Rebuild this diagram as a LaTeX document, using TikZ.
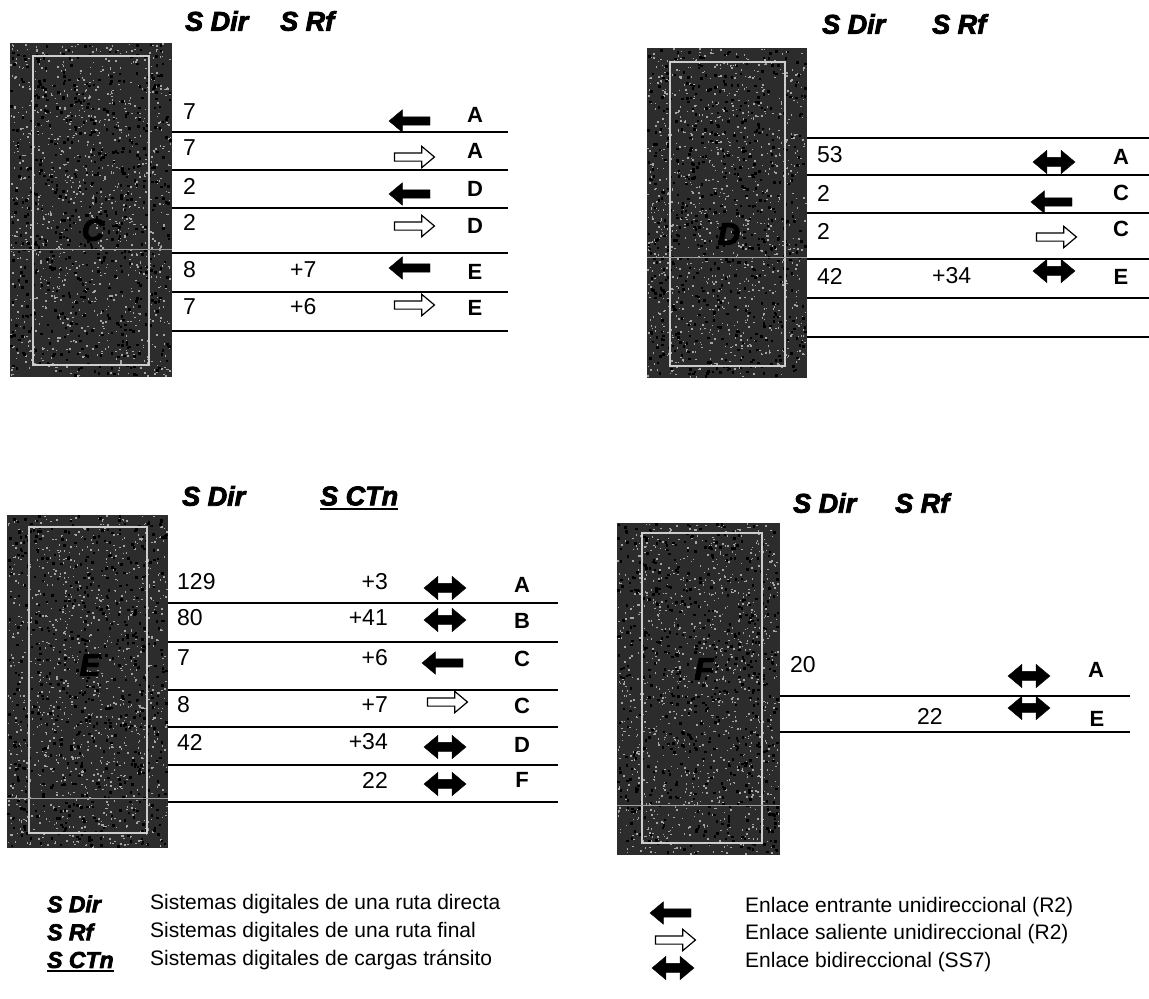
\documentclass[tikz,border=0pt]{standalone}
\usepackage{fontspec}
\setmainfont{Liberation Sans}
\newfontfamily\hdrfont[FakeBold=3]{Liberation Sans}
\usetikzlibrary{shapes.arrows, positioning}
\definecolor{boxgray}{RGB}{44,44,44}
\definecolor{speckgray}{RGB}{165,165,165}
\definecolor{rimgray}{RGB}{205,205,205}
\tikzstyle{exchbox} = [rectangle, fill=boxgray, inner sep=0]
\tikzstyle{innerframe} = [draw=rimgray, line width=1.3pt]
\tikzstyle{seam} = [draw=gray!75, line width=0.8pt]
\tikzstyle{boxletter} = [font=\hdrfont\bfseries\itshape\fontsize{31}{31}\selectfont, text=black, inner sep=0]
\tikzstyle{hdr} = [font=\hdrfont\bfseries\itshape\fontsize{27}{28}\selectfont, inner sep=0, anchor=west]
\tikzstyle{numcell} = [font=\fontsize{23}{24}\selectfont, inner sep=0, anchor=west]
\tikzstyle{numcellr} = [numcell, anchor=east]
\tikzstyle{destcell} = [font=\bfseries\fontsize{22}{24}\selectfont, inner sep=0]
\tikzstyle{tabline} = [line width=1.4pt]
\tikzstyle{underbar} = [line width=1.8pt]
\tikzstyle{inarrow} = [single arrow, shape border rotate=180, draw=black, fill=black, minimum height=41, inner xsep=0, inner ysep=4, single arrow head extend=7, single arrow tip angle=80]
\tikzstyle{outarrow} = [single arrow, draw=black, fill=white, line width=1.2pt, minimum height=40, inner xsep=0, inner ysep=3.5, single arrow head extend=6.5, single arrow tip angle=80]
\tikzstyle{biarrow} = [double arrow, draw=black, fill=black, minimum height=42, inner xsep=0, inner ysep=4.5, double arrow head extend=7, double arrow tip angle=80]
\tikzstyle{legtext} = [font=\fontsize{21}{24}\selectfont, inner sep=0, anchor=west]
\tikzstyle{leghdr} = [font=\hdrfont\bfseries\itshape\fontsize{23}{24}\selectfont, inner sep=0, anchor=west]

% grainy fill of an exchange box: x1 y1 x2 y2
\newcommand{\speckle}[4]{%
  \foreach \k in {1,...,1100}{%
    \pgfmathsetmacro{\spx}{#1+rnd*(#3-#1-1.5)}%
    \pgfmathsetmacro{\spy}{#2+rnd*(#4-#2-1.5)}%
    \fill[speckgray] (\spx,\spy) rectangle ++(1.5,1.5);%
  }%
  \foreach \k in {1,...,600}{%
    \pgfmathsetmacro{\spx}{#1+rnd*(#3-#1-2.5)}%
    \pgfmathsetmacro{\spy}{#2+rnd*(#4-#2-2.5)}%
    \fill[black] (\spx,\spy) rectangle ++(2.5,2.5);%
  }}

\begin{document}
\begin{tikzpicture}[x=1pt, y=-1pt]
    \useasboundingbox (0,0) rectangle (1149,999);
    \pgfmathsetseed{11}

    % Exchange C
    \node[exchbox, minimum width=162, minimum height=334] (boxC) at (91,210) {};
    \speckle{10}{43}{172}{377}
    \draw[innerframe] (33,56) rectangle (149,365);
    \draw[seam] (boxC.west |- 0,249) -- (boxC.east |- 0,249);
    \node[boxletter] (letC) at (93,230) {C};
    \node[hdr] (cDir) at (185,21) {S Dir};
    \node[hdr] (cRf) at (280,21) {S Rf};

    \node[numcell] (c1n) at (183,112) {7};
    \node[inarrow] (c1a) at (412,121) {};
    \node[destcell] (c1d) at (475,115) {A};
    \draw[tabline] (boxC.east |- 0,132) -- (508,132);
    \node[numcell] (c2n) at (183,148) {7};
    \node[outarrow] (c2a) at (412,157) {};
    \node[destcell] (c2d) at (475,151) {A};
    \draw[tabline] (boxC.east |- 0,170) -- (508,170);
    \node[numcell] (c3n) at (183,186) {2};
    \node[inarrow] (c3a) at (412,194) {};
    \node[destcell] (c3d) at (475,189) {D};
    \draw[tabline] (boxC.east |- 0,208) -- (508,208);
    \node[numcell] (c4n) at (183,222) {2};
    \node[outarrow] (c4a) at (412,226) {};
    \node[destcell] (c4d) at (475,226) {D};
    \draw[tabline] (boxC.east |- 0,253) -- (508,253);
    \node[numcell] (c5n) at (183,270) {8};
    \node[numcell] (c5r) at (290,270) {+7};
    \node[inarrow] (c5a) at (412,268) {};
    \node[destcell] (c5d) at (475,272) {E};
    \draw[tabline] (boxC.east |- 0,292) -- (508,292);
    \node[numcell] (c6n) at (183,307) {7};
    \node[numcell] (c6r) at (290,307) {+6};
    \node[outarrow] (c6a) at (412,305) {};
    \node[destcell] (c6d) at (475,308) {E};
    \draw[tabline] (boxC.east |- 0,331) -- (508,331);

    % Exchange D
    \node[exchbox, minimum width=160, minimum height=330] (boxD) at (727,213) {};
    \speckle{647}{48}{807}{378}
    \draw[innerframe] (670,62) rectangle (785,366);
    \draw[seam] (boxD.west |- 0,257) -- (boxD.east |- 0,257);
    \node[boxletter] (letD) at (729,234) {D};
    \node[hdr] (dDir) at (822,24) {S Dir};
    \node[hdr] (dRf) at (932,24) {S Rf};

    \draw[tabline] (boxD.east |- 0,138) -- (1149,138);
    \node[numcell] (d1n) at (817,155) {53};
    \node[biarrow] (d1a) at (1054,162) {};
    \node[destcell] (d1d) at (1121,157) {A};
    \draw[tabline] (boxD.east |- 0,175) -- (1149,175);
    \node[numcell] (d2n) at (817,193) {2};
    \node[inarrow] (d2a) at (1054,202) {};
    \node[destcell] (d2d) at (1121,193) {C};
    \draw[tabline] (boxD.east |- 0,213) -- (1149,213);
    \node[numcell] (d3n) at (817,231) {2};
    \node[outarrow] (d3a) at (1054,237) {};
    \node[destcell] (d3d) at (1121,229) {C};
    \draw[tabline] (boxD.east |- 0,259) -- (1149,259);
    \node[numcell] (d4n) at (817,276) {42};
    \node[numcell] (d4r) at (932,276) {+34};
    \node[biarrow] (d4a) at (1054,271) {};
    \node[destcell] (d4d) at (1121,277) {E};
    \draw[tabline] (boxD.east |- 0,298) -- (1149,298);
    \draw[tabline] (boxD.east |- 0,337) -- (1149,337);

    % Exchange E
    \node[exchbox, minimum width=161, minimum height=333] (boxE) at (87.5,681.5) {};
    \speckle{7}{515}{168}{848}
    \draw[innerframe] (29,527) rectangle (147,833);
    \draw[seam] (boxE.west |- 0,798) -- (boxE.east |- 0,798);
    \node[boxletter] (letE) at (90,665) {E};
    \node[hdr] (eDir) at (182,496) {S Dir};
    \node[hdr] (eCtn) at (320,496) {S CTn};
    \draw[underbar] ([yshift=-3pt]eCtn.south west) -- ([yshift=-3pt]eCtn.south east);

    \node[numcell] (e1n) at (177,582) {129};
    \node[numcellr] (e1r) at (388,582) {+3};
    \node[biarrow] (e1a) at (445,588) {};
    \node[destcell] (e1d) at (522,585) {A};
    \draw[tabline] (boxE.east |- 0,603) -- (558,603);
    \node[numcell] (e2n) at (177,618) {80};
    \node[numcellr] (e2r) at (388,618) {+41};
    \node[biarrow] (e2a) at (445,620) {};
    \node[destcell] (e2d) at (522,621) {B};
    \draw[tabline] (boxE.east |- 0,642) -- (558,642);
    \node[numcell] (e3n) at (177,658) {7};
    \node[numcellr] (e3r) at (388,658) {+6};
    \node[inarrow] (e3a) at (445,663) {};
    \node[destcell] (e3d) at (522,659) {C};
    \draw[tabline] (boxE.east |- 0,690) -- (558,690);
    \node[numcell] (e4n) at (177,705) {8};
    \node[numcellr] (e4r) at (388,705) {+7};
    \node[outarrow] (e4a) at (445,702) {};
    \node[destcell] (e4d) at (522,706) {C};
    \draw[tabline] (boxE.east |- 0,727) -- (558,727);
    \node[numcell] (e5n) at (177,742) {42};
    \node[numcellr] (e5r) at (388,742) {+34};
    \node[biarrow] (e5a) at (445,747) {};
    \node[destcell] (e5d) at (522,745) {D};
    \draw[tabline] (boxE.east |- 0,765) -- (558,765);
    \node[numcellr] (e6r) at (388,780) {22};
    \node[biarrow] (e6a) at (445,784) {};
    \node[destcell] (e6d) at (522,780) {F};
    \draw[tabline] (boxE.east |- 0,802) -- (558,802);

    % Exchange F
    \node[exchbox, minimum width=163, minimum height=332] (boxF) at (698.5,689) {};
    \speckle{617}{523}{780}{855}
    \draw[innerframe] (642,533) rectangle (762,843);
    \draw[seam] (boxF.west |- 0,805) -- (boxF.east |- 0,805);
    \node[boxletter] (letF) at (704,669) {F};
    \node[hdr] (fDir) at (793,503) {S Dir};
    \node[hdr] (fRf) at (895,503) {S Rf};

    \node[numcell] (f1n) at (790,665) {20};
    \node[biarrow] (f1a) at (1029,676) {};
    \node[destcell] (f1d) at (1096,670) {A};
    \draw[tabline] (boxF.east |- 0,696) -- (1130,696);
    \node[numcell] (f2n) at (917,716) {22};
    \node[biarrow] (f2a) at (1029,708) {};
    \node[destcell] (f2d) at (1097,719) {E};
    \draw[tabline] (boxF.east |- 0,732) -- (1130,732);

    % Legend
    \node[leghdr] (kDir) at (47,904) {S Dir};
    \node[legtext] (kDirTxt) at (150,904) {Sistemas digitales de una ruta directa};
    \node[leghdr] (kRf) at (47,932) {S Rf};
    \node[legtext] (kRfTxt) at (150,932) {Sistemas digitales de una ruta final};
    \node[leghdr] (kCtn) at (47,960) {S CTn};
    \draw[underbar] ([yshift=-3pt]kCtn.south west) -- ([yshift=-3pt]kCtn.south east);
    \node[legtext] (kCtnTxt) at (150,960) {Sistemas digitales de cargas tránsito};

    \node[inarrow] (kIn) at (673,913) {};
    \node[legtext] (kInTxt) at (745,907) {Enlace entrante unidireccional (R2)};
    \node[outarrow] (kOut) at (673,940) {};
    \node[legtext] (kOutTxt) at (745,934) {Enlace saliente unidireccional (R2)};
    \node[biarrow] (kBi) at (673,968) {};
    \node[legtext] (kBiTxt) at (745,962) {Enlace bidireccional (SS7)};
\end{tikzpicture}
\end{document}
